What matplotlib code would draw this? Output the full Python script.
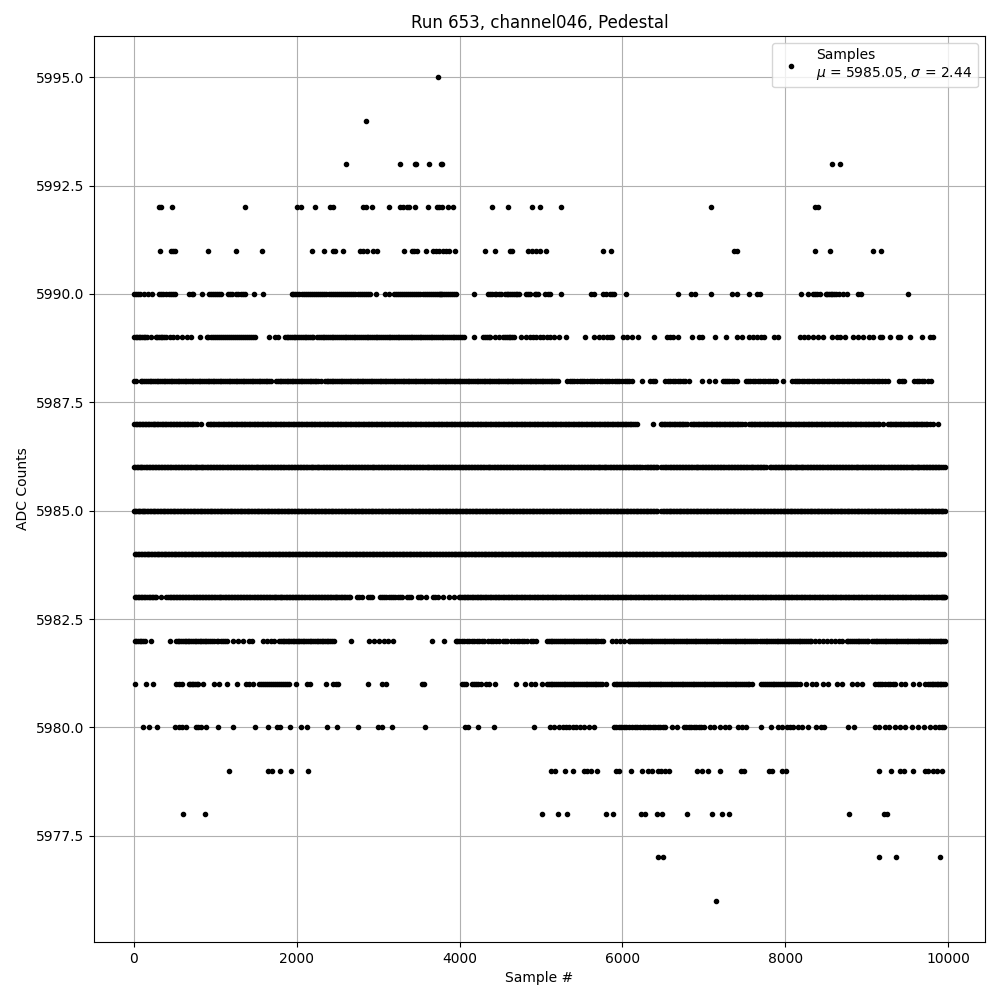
import matplotlib
matplotlib.use("Agg")
import matplotlib.pyplot as plt

title = "Run 653, channel046, Pedestal"
x_label = "Sample #"
y_label = "ADC Counts"
legend_label = "Samples\n$\\mu$ = 5985.05, $\\sigma$ = 2.44"

s5995 = [3740]
s5994 = [2850]
s5993 = [2600, 3270, 3450, 3470, 3630, 3770, 3790, 8580, 8670]
s5992 = [307, 335, 466, 1362, 2000, 2057, 2221, 2409, 2446, 2810, 2850, 2920, 3129, 3268, 3309,
         3350, 3383, 3448, 3607, 3718, 3750, 3783, 3853, 3914, 4393, 4601, 4896, 4994, 5247, 7088,
         8368, 8400]
s5991 = [319, 450, 479, 503, 908, 1252, 1571, 2184, 2331, 2442, 2474, 2564, 2777, 2818, 2859, 2933,
         2982, 3313, 3411, 3444, 3473, 3583, 3669, 3710, 3750, 3791, 3832, 3873, 3939, 4319, 4442,
         4620, 4640, 4847, 4896, 4945, 4994, 5063, 5763, 5865, 7366, 7407, 8364, 8548, 9076, 9178]
s5990 = [0, 29, 50, 70, 130, 172, 221, 307, 335, 356, 397, 430, 458, 480, 499, 683, 710, 732, 838, 920,
         945, 969, 995, 1018, 1045, 1072, 1157, 1182, 1207, 1256, 1285, 1317, 1345, 1370, 1472, 1583,
         1939, 1960, 1980, 2005, 2033, 2060, 2086, 2110, 2135, 2160, 2188, 2212, 2237, 2265, 2290, 2315,
         2339, 2365, 2393, 2418, 2442, 2465, 2491, 2518, 2544, 2570, 2597, 2620, 2646, 2670, 2695, 2720,
         2748, 2775, 2802, 2825, 2851, 2875, 2900, 2973, 3088, 3137, 3198, 3220, 3239, 3265, 3292, 3318,
         3342, 3365, 3391, 3418, 3444, 3468, 3493, 3520, 3546, 3570, 3595, 3620, 3648, 3672, 3697, 3720,
         3742, 3755, 3771, 3790, 3812, 3832, 3853, 3878, 3902, 3930, 3955, 4184, 4356, 4380, 4405, 4430,
         4454, 4480, 4507, 4560, 4580, 4601, 4622, 4642, 4665, 4691, 4712, 4732, 4822, 4842, 4863, 4924,
         4945, 4965, 5055, 5085, 5117, 5247, 5616, 5656, 5759, 5800, 5853, 5875, 5894, 6045, 6683, 6847,
         6888, 7088, 7346, 7411, 7554, 7656, 7697, 8192, 8278, 8348, 8370, 8389, 8430, 8499, 8520, 8540,
         8560, 8581, 8600, 8622, 8663, 8716, 8757, 8892, 8933, 9505]
s5989 = [0, 37, 78, 119, 160, 213, 266, 307, 348, 389, 438, 479, 528, 589, 650, 703, 810, 896, 945,
         994, 1043, 1092, 1141, 1190, 1239, 1288, 1337, 1387, 1436, 1485, 1656, 1730, 1771, 1853,
         1895, 1940, 1985, 2030, 2075, 2120, 2165, 2205, 2250, 2295, 2340, 2385, 2430, 2475, 2520,
         2565, 2610, 2655, 2700, 2745, 2790, 2835, 2880, 2925, 2970, 3015, 3060, 3105, 3150, 3195,
         3240, 3285, 3330, 3375, 3420, 3465, 3510, 3555, 3600, 3645, 3690, 3735, 3780, 3825, 3870,
         3915, 3960, 4005, 4057, 4172, 4290, 4335, 4380, 4440, 4487, 4536, 4580, 4625, 4670, 4752,
         4815, 4860, 4900, 4945, 4990, 5030, 5075, 5115, 5155, 5220, 5313, 5542, 5656, 5710, 5759,
         5812, 5853, 5873, 6004, 6057, 6119, 6188, 6389, 6548, 6589, 6622, 6683, 6855, 6937, 6978,
         7141, 7272, 7407, 7468, 7550, 7599, 7652, 7701, 7746, 7865, 7918, 8184, 8229, 8286, 8348,
         8409, 8470, 8573, 8634, 8675, 8736, 8838, 8900, 8961, 9031, 9084, 9166, 9194, 9288, 9382,
         9411, 9538, 9677, 9779, 9820]
s5989_fill = [20, 58, 98, 140, 285, 328, 368, 915, 970, 1018, 1068, 1118, 1165, 1215, 1265, 1312, 1362,
              1412, 1460, 1875, 1918, 1962, 2008, 2052, 2098, 2142, 2185, 2272, 2318, 2362, 2408, 2452,
              2498, 2542, 2588, 2632, 2678, 2722, 2768, 2812, 2858, 2902, 2948, 2992, 3038, 3082, 3128,
              3172, 3218, 3262, 3308, 3352, 3398, 3442, 3488, 3532, 3578, 3622, 3668, 3712, 3758, 3802,
              3848, 3892, 3938, 3982, 4030, 4312, 4358, 4558, 4602, 4648]
s5988 = [0, 25, 85, 125, 170, 215, 255, 300, 345, 385, 430, 470, 515, 560, 600, 645, 690, 730, 775,
         815, 860, 905, 945, 990, 1035, 1075, 1120, 1165, 1205, 1250, 1295, 1335, 1380, 1425, 1465,
         1510, 1555, 1595, 1640, 1685, 1745, 1790, 1830, 1875, 1920, 1960, 2005, 2050, 2090, 2135,
         2180, 2220, 2265, 2300, 2345, 2390, 2430, 2475, 2520, 2560, 2605, 2650, 2690, 2735, 2780,
         2820, 2865, 2910, 2950, 2995, 3040, 3080, 3125, 3170, 3210, 3255, 3300, 3340, 3385, 3430,
         3470, 3515, 3560, 3600, 3645, 3690, 3730, 3775, 3820, 3860, 3905, 3950, 3990, 4035, 4080,
         4120, 4165, 4210, 4250, 4295, 4340, 4380, 4425, 4470, 4510, 4555, 4600, 4640, 4685, 4730,
         4770, 4815, 4860, 4900, 4945, 4990, 5030, 5075, 5120, 5160, 5215, 5321, 5382, 5444, 5505,
         5566, 5628, 5689, 5751, 5812, 5873, 5935, 5996, 6057, 6119, 6241, 6344, 6397, 6528, 6589,
         6650, 6712, 6773, 6822, 6978, 7059, 7141, 7231, 7284, 7346, 7407, 7517, 7570, 7632, 7693,
         7755, 7816, 7886, 7975, 8090, 8143, 8205, 8266, 8327, 8389, 8450, 8511, 8573, 8634, 8696,
         8757, 8818, 8880, 8941, 9002, 9064, 9125, 9186, 9268, 9399, 9464, 9587, 9644, 9710, 9791]
s5988_fill = [105, 148, 192, 235, 278, 322, 365, 408, 450, 492, 538, 580, 622, 668, 710, 752, 795, 838,
              882, 925, 968, 1012, 1055, 1098, 1142, 1185, 1228, 1272, 1315, 1358, 1402, 1445, 1488,
              1532, 1575, 1618, 1662, 1768, 1810, 1852, 1898, 1940, 1982, 2028, 2070, 2112, 2158, 2200,
              2242, 2368, 2410, 2452, 2498, 2540, 2582, 2628, 2670, 2712, 2758, 2800, 2842, 2888, 2930,
              2972, 3018, 3060, 3102, 3148, 3190, 3232, 3278, 3320, 3362, 3408, 3450, 3492, 3538, 3580,
              3622, 3668, 3710, 3752, 3798, 3840, 3882, 3928, 3970, 4012, 4058, 4100, 4142, 4188, 4230,
              4272, 4318, 4360, 4402, 4448, 4490, 4532, 4578, 4620, 4662, 4708, 4750, 4792, 4838, 4880,
              4922, 4968, 5010, 5052, 5098, 5140, 5185, 5352, 5412, 5475, 5535, 5598, 5658, 5720, 5782,
              5842, 5905, 5965, 6028, 6088, 6372, 6558, 6620, 6680, 6742, 7258, 7315, 7376, 7545, 7600,
              7662, 7725, 7785, 7850, 8118, 8175, 8235, 8296, 8358, 8420, 8480, 8542, 8604, 8665, 8726,
              8788, 8850, 8910, 8972, 9032, 9095, 9155, 9228, 9430, 9616, 9676, 9750]
s5987 = [2, 40, 75, 115, 150, 190, 230, 265, 300, 340, 380, 420, 455, 495, 535, 570, 610, 650, 690,
         730, 770, 826, 910, 950, 990, 1030, 1070, 1110, 1150, 1190, 1230, 1270, 1310, 1350, 1390,
         1430, 1470, 1510, 1550, 1590, 1630, 1670, 1710, 1750, 1790, 1830, 1870, 1910, 1950, 1990,
         2030, 2070, 2110, 2150, 2190, 2230, 2270, 2310, 2350, 2390, 2430, 2470, 2510, 2550, 2590,
         2630, 2670, 2710, 2750, 2790, 2830, 2870, 2910, 2950, 2990, 3030, 3070, 3110, 3150, 3190,
         3230, 3270, 3310, 3350, 3390, 3430, 3470, 3510, 3550, 3590, 3630, 3670, 3710, 3750, 3790,
         3830, 3870, 3910, 3950, 3990, 4030, 4070, 4110, 4150, 4190, 4230, 4270, 4310, 4350, 4390,
         4430, 4470, 4510, 4550, 4590, 4630, 4670, 4710, 4750, 4790, 4830, 4870, 4910, 4950, 4990,
         5030, 5070, 5110, 5150, 5190, 5230, 5270, 5310, 5350, 5390, 5430, 5470, 5510, 5550, 5590,
         5630, 5670, 5710, 5750, 5790, 5830, 5870, 5910, 5950, 5990, 6030, 6070, 6110, 6150, 6180,
         6376, 6470, 6510, 6550, 6590, 6630, 6670, 6710, 6750, 6790, 6845, 6885, 6925, 6965, 7005,
         7045, 7085, 7125, 7165, 7205, 7245, 7285, 7325, 7365, 7405, 7445, 7468, 7509, 7555, 7595,
         7635, 7675, 7715, 7755, 7795, 7835, 7875, 7915, 7955, 7995, 8035, 8075, 8115, 8155, 8195,
         8235, 8275, 8315, 8355, 8395, 8435, 8475, 8515, 8555, 8595, 8635, 8675, 8715, 8755, 8795,
         8835, 8875, 8915, 8955, 8995, 9035, 9075, 9115, 9155, 9200, 9265, 9305, 9345, 9385, 9425,
         9465, 9505, 9545, 9585, 9625, 9665, 9705, 9745, 9775, 9820, 9881]
s5987_fill = [22, 58, 95, 132, 170, 210, 248, 282, 320, 360, 400, 438, 475, 515, 552, 590, 630, 670, 710,
              750, 930, 970, 1010, 1050, 1090, 1130, 1170, 1210, 1250, 1290, 1330, 1370, 1410, 1450, 1490,
              1530, 1570, 1610, 1650, 1690, 1730, 1770, 1810, 1850, 1890, 1930, 1970, 2010, 2050, 2090,
              2130, 2170, 2210, 2250, 2290, 2330, 2370, 2410, 2450, 2490, 2530, 2570, 2610, 2650, 2690,
              2730, 2770, 2810, 2850, 2890, 2930, 2970, 3010, 3050, 3090, 3130, 3170, 3210, 3250, 3290,
              3330, 3370, 3410, 3450, 3490, 3530, 3570, 3610, 3650, 3690, 3730, 3770, 3810, 3850, 3890,
              3930, 3970, 4010, 4050, 4090, 4130, 4170, 4210, 4250, 4290, 4330, 4370, 4410, 4450, 4490,
              4530, 4570, 4610, 4650, 4690, 4730, 4770, 4810, 4850, 4890, 4930, 4970, 5010, 5050, 5090,
              5130, 5170, 5210, 5250, 5290, 5330, 5370, 5410, 5450, 5490, 5530, 5570, 5610, 5650, 5690,
              5730, 5770, 5810, 5850, 5890, 5930, 5970, 6010, 6050, 6090, 6130, 6490, 6530, 6570, 6610,
              6650, 6690, 6730, 6770, 6865, 6905, 6945, 6985, 7025, 7065, 7105, 7145, 7185, 7225, 7265,
              7305, 7345, 7385, 7425, 7575, 7615, 7655, 7695, 7735, 7775, 7815, 7855, 7895, 7935, 7975,
              8015, 8055, 8095, 8135, 8175, 8215, 8255, 8295, 8335, 8375, 8415, 8455, 8495, 8535, 8575,
              8615, 8655, 8695, 8735, 8775, 8815, 8855, 8895, 8935, 8975, 9015, 9055, 9095, 9135, 9285,
              9325, 9365, 9405, 9445, 9485, 9525, 9565, 9605, 9645, 9685, 9725]
s5986 = [0, 35, 70, 105, 145, 180, 220, 255, 295, 330, 370, 405, 445, 480, 520, 555, 595, 630, 670,
         705, 745, 780, 820, 855, 895, 930, 970, 1005, 1045, 1080, 1120, 1155, 1195, 1230, 1270,
         1305, 1345, 1380, 1420, 1455, 1495, 1530, 1570, 1605, 1645, 1680, 1720, 1755, 1795, 1830,
         1870, 1905, 1945, 1980, 2020, 2055, 2095, 2130, 2170, 2205, 2245, 2280, 2320, 2355, 2395,
         2430, 2470, 2505, 2545, 2580, 2620, 2655, 2695, 2730, 2770, 2805, 2845, 2880, 2920, 2955,
         2995, 3030, 3070, 3105, 3145, 3180, 3220, 3255, 3295, 3330, 3370, 3405, 3445, 3480, 3520,
         3555, 3595, 3630, 3670, 3705, 3745, 3780, 3820, 3855, 3895, 3930, 3970, 4005, 4045, 4080,
         4120, 4155, 4195, 4230, 4270, 4305, 4345, 4380, 4420, 4455, 4495, 4530, 4570, 4605, 4645,
         4680, 4720, 4755, 4795, 4830, 4870, 4905, 4945, 4980, 5020, 5055, 5095, 5130, 5170, 5205,
         5245, 5280, 5320, 5355, 5395, 5430, 5470, 5505, 5545, 5580, 5620, 5655, 5695, 5730, 5770,
         5805, 5845, 5880, 5920, 5955, 5995, 6030, 6070, 6105, 6145, 6180, 6220, 6280, 6320, 6355,
         6395, 6430, 6480, 6520, 6560, 6600, 6635, 6675, 6710, 6750, 6785, 6825, 6860, 6900, 6935,
         6975, 7010, 7050, 7085, 7125, 7160, 7200, 7235, 7275, 7310, 7350, 7385, 7425, 7460, 7500,
         7535, 7575, 7610, 7650, 7685, 7725, 7760, 7815, 7850, 7890, 7925, 7965, 8000, 8040, 8075,
         8115, 8150, 8190, 8225, 8265, 8300, 8340, 8375, 8415, 8450, 8490, 8525, 8565, 8600, 8640,
         8675, 8715, 8750, 8790, 8825, 8865, 8900, 8940, 8975, 9015, 9050, 9090, 9125, 9165, 9200,
         9240, 9275, 9315, 9350, 9390, 9425, 9465, 9500, 9540, 9575, 9615, 9650, 9690, 9725, 9765,
         9800, 9840, 9875, 9915, 9960]
s5986_fill = [18, 52, 88, 125, 162, 200, 238, 275, 312, 350, 388, 425, 462, 500, 538, 575, 612, 650, 688,
              725, 762, 800, 838, 875, 912, 950, 988, 1025, 1062, 1100, 1138, 1175, 1212, 1250, 1288,
              1325, 1362, 1400, 1438, 1475, 1512, 1550, 1588, 1625, 1662, 1700, 1738, 1775, 1812, 1850,
              1888, 1925, 1962, 2000, 2038, 2075, 2112, 2150, 2188, 2225, 2262, 2300, 2338, 2375, 2412,
              2450, 2488, 2525, 2562, 2600, 2638, 2675, 2712, 2750, 2788, 2825, 2862, 2900, 2938, 2975,
              3012, 3050, 3088, 3125, 3162, 3200, 3238, 3275, 3312, 3350, 3388, 3425, 3462, 3500, 3538,
              3575, 3612, 3650, 3688, 3725, 3762, 3800, 3838, 3875, 3912, 3950, 3988, 4025, 4062, 4100,
              4138, 4175, 4212, 4250, 4288, 4325, 4362, 4400, 4438, 4475, 4512, 4550, 4588, 4625, 4662,
              4700, 4738, 4775, 4812, 4850, 4888, 4925, 4962, 5000, 5038, 5075, 5112, 5150, 5188, 5225,
              5262, 5300, 5338, 5375, 5412, 5450, 5488, 5525, 5562, 5600, 5638, 5675, 5712, 5750, 5788,
              5825, 5862, 5900, 5938, 5975, 6012, 6050, 6088, 6125, 6162, 6200, 6240, 6300, 6338, 6375,
              6412, 6500, 6540, 6580, 6618, 6655, 6692, 6730, 6768, 6805, 6842, 6880, 6918, 6955, 6992,
              7030, 7068, 7105, 7142, 7180, 7218, 7255, 7292, 7330, 7368, 7405, 7442, 7480, 7518, 7555,
              7592, 7630, 7668, 7705, 7742, 7832, 7870, 7908, 7945, 7982, 8020, 8058, 8095, 8132, 8170,
              8208, 8245, 8282, 8320, 8358, 8395, 8432, 8470, 8508, 8545, 8582, 8620, 8658, 8695, 8732,
              8770, 8808, 8845, 8882, 8920, 8958, 8995, 9032, 9070, 9108, 9145, 9182, 9220, 9258, 9295,
              9332, 9370, 9408, 9445, 9482, 9520, 9558, 9595, 9632, 9670, 9708, 9745, 9782, 9820, 9858,
              9895, 9935]
s5985 = [0, 30, 60, 95, 125, 160, 195, 230, 265, 300, 335, 370, 405, 440, 475, 510, 545, 580, 615,
         650, 685, 720, 755, 790, 825, 860, 895, 930, 965, 1000, 1035, 1070, 1105, 1140, 1175, 1210,
         1245, 1280, 1315, 1350, 1385, 1420, 1455, 1490, 1525, 1560, 1595, 1630, 1665, 1700, 1735,
         1770, 1805, 1840, 1875, 1910, 1945, 1980, 2015, 2050, 2085, 2120, 2155, 2190, 2225, 2260,
         2295, 2330, 2365, 2400, 2435, 2470, 2505, 2540, 2575, 2610, 2645, 2680, 2715, 2750, 2785,
         2820, 2855, 2890, 2925, 2960, 2995, 3030, 3065, 3100, 3135, 3170, 3205, 3240, 3275, 3310,
         3345, 3380, 3415, 3450, 3485, 3520, 3555, 3590, 3625, 3660, 3695, 3730, 3765, 3800, 3835,
         3870, 3905, 3940, 3975, 4010, 4045, 4080, 4115, 4150, 4185, 4220, 4255, 4290, 4325, 4360,
         4395, 4430, 4465, 4500, 4535, 4570, 4605, 4640, 4675, 4710, 4745, 4780, 4815, 4850, 4885,
         4920, 4955, 4990, 5025, 5060, 5095, 5130, 5165, 5200, 5235, 5270, 5305, 5340, 5375, 5410,
         5445, 5480, 5515, 5550, 5585, 5620, 5655, 5690, 5725, 5760, 5795, 5830, 5865, 5900, 5935,
         5970, 6005, 6040, 6075, 6110, 6145, 6180, 6215, 6250, 6285, 6320, 6355, 6390, 6425, 6480,
         6515, 6550, 6585, 6620, 6655, 6690, 6725, 6760, 6795, 6830, 6865, 6900, 6935, 6970, 7005,
         7040, 7075, 7110, 7145, 7180, 7215, 7250, 7285, 7320, 7355, 7390, 7425, 7460, 7495, 7530,
         7565, 7600, 7635, 7670, 7705, 7740, 7775, 7810, 7845, 7880, 7915, 7950, 7985, 8020, 8055,
         8090, 8125, 8160, 8195, 8230, 8265, 8300, 8335, 8370, 8405, 8440, 8475, 8510, 8545, 8580,
         8615, 8650, 8685, 8720, 8755, 8790, 8825, 8860, 8895, 8930, 8965, 9000, 9035, 9070, 9105,
         9140, 9175, 9210, 9245, 9280, 9315, 9350, 9385, 9420, 9455, 9490, 9525, 9560, 9595, 9630,
         9665, 9700, 9735, 9770, 9805, 9840, 9875, 9910, 9945]
s5985_fill = [15, 45, 78, 110, 142, 178, 212, 248, 282, 318, 352, 388, 422, 458, 492, 528, 562, 598, 632,
              668, 702, 738, 772, 808, 842, 878, 912, 948, 982, 1018, 1052, 1088, 1122, 1158, 1192, 1228,
              1262, 1298, 1332, 1368, 1402, 1438, 1472, 1508, 1542, 1578, 1612, 1648, 1682, 1718, 1752,
              1788, 1822, 1858, 1892, 1928, 1962, 1998, 2032, 2068, 2102, 2138, 2172, 2208, 2242, 2278,
              2312, 2348, 2382, 2418, 2452, 2488, 2522, 2558, 2592, 2628, 2662, 2698, 2732, 2768, 2802,
              2838, 2872, 2908, 2942, 2978, 3012, 3048, 3082, 3118, 3152, 3188, 3222, 3258, 3292, 3328,
              3362, 3398, 3432, 3468, 3502, 3538, 3572, 3608, 3642, 3678, 3712, 3748, 3782, 3818, 3852,
              3888, 3922, 3958, 3992, 4028, 4062, 4098, 4132, 4168, 4202, 4238, 4272, 4308, 4342, 4378,
              4412, 4448, 4482, 4518, 4552, 4588, 4622, 4658, 4692, 4728, 4762, 4798, 4832, 4868, 4902,
              4938, 4972, 5008, 5042, 5078, 5112, 5148, 5182, 5218, 5252, 5288, 5322, 5358, 5392, 5428,
              5462, 5498, 5532, 5568, 5602, 5638, 5672, 5708, 5742, 5778, 5812, 5848, 5882, 5918, 5952,
              5988, 6022, 6058, 6092, 6128, 6162, 6198, 6232, 6268, 6302, 6338, 6372, 6408, 6498, 6532,
              6568, 6602, 6638, 6672, 6708, 6742, 6778, 6812, 6848, 6882, 6918, 6952, 6988, 7022, 7058,
              7092, 7128, 7162, 7198, 7232, 7268, 7302, 7338, 7372, 7408, 7442, 7478, 7512, 7548, 7582,
              7618, 7652, 7688, 7722, 7758, 7792, 7828, 7862, 7898, 7932, 7968, 8002, 8038, 8072, 8108,
              8142, 8178, 8212, 8248, 8282, 8318, 8352, 8388, 8422, 8458, 8492, 8528, 8562, 8598, 8632,
              8668, 8702, 8738, 8772, 8808, 8842, 8878, 8912, 8948, 8982, 9018, 9052, 9088, 9122, 9158,
              9192, 9228, 9262, 9298, 9332, 9368, 9402, 9438, 9472, 9508, 9542, 9578, 9612, 9648, 9682,
              9718, 9752, 9788, 9822, 9858, 9892, 9928, 9960]
s5984 = [15, 50, 85, 120, 155, 190, 225, 260, 295, 330, 365, 400, 435, 470, 505, 540, 575, 610, 645,
         680, 715, 750, 785, 820, 855, 890, 925, 960, 995, 1030, 1065, 1100, 1135, 1170, 1205, 1240,
         1275, 1310, 1345, 1380, 1415, 1450, 1485, 1520, 1555, 1590, 1625, 1660, 1695, 1730, 1765,
         1800, 1835, 1870, 1905, 1940, 1975, 2010, 2045, 2080, 2115, 2150, 2185, 2220, 2255, 2290,
         2325, 2360, 2395, 2430, 2465, 2500, 2535, 2570, 2605, 2640, 2675, 2710, 2745, 2780, 2815,
         2850, 2885, 2920, 2955, 2990, 3025, 3060, 3095, 3130, 3165, 3200, 3235, 3270, 3305, 3340,
         3375, 3410, 3445, 3480, 3515, 3550, 3585, 3620, 3655, 3690, 3725, 3760, 3800, 3840, 3875,
         3910, 3945, 3980, 4015, 4050, 4085, 4120, 4155, 4190, 4225, 4260, 4295, 4330, 4365, 4400,
         4435, 4470, 4505, 4540, 4575, 4610, 4645, 4680, 4715, 4750, 4785, 4820, 4855, 4890, 4925,
         4960, 4995, 5030, 5065, 5100, 5135, 5170, 5205, 5240, 5275, 5310, 5345, 5380, 5415, 5450,
         5485, 5520, 5555, 5590, 5625, 5660, 5695, 5730, 5765, 5800, 5835, 5870, 5905, 5940, 5975,
         6010, 6045, 6080, 6115, 6150, 6185, 6220, 6255, 6290, 6325, 6360, 6395, 6430, 6470, 6505,
         6540, 6575, 6610, 6645, 6680, 6715, 6750, 6785, 6820, 6855, 6890, 6925, 6960, 6995, 7030,
         7065, 7100, 7135, 7170, 7205, 7240, 7275, 7310, 7345, 7380, 7415, 7450, 7485, 7520, 7555,
         7590, 7625, 7660, 7695, 7730, 7765, 7800, 7835, 7870, 7905, 7940, 7975, 8010, 8045, 8080,
         8115, 8150, 8185, 8220, 8255, 8290, 8325, 8360, 8395, 8430, 8465, 8500, 8535, 8570, 8605,
         8640, 8675, 8710, 8745, 8780, 8815, 8850, 8885, 8920, 8955, 8990, 9025, 9060, 9095, 9130,
         9165, 9200, 9235, 9270, 9305, 9340, 9375, 9410, 9445, 9480, 9515, 9550, 9585, 9620, 9655,
         9690, 9725, 9760, 9795, 9830, 9865, 9900, 9950]
s5984_fill = [32, 68, 102, 138, 172, 208, 242, 278, 312, 348, 382, 418, 452, 488, 522, 558, 592, 628, 662,
              698, 732, 768, 802, 838, 872, 908, 942, 978, 1012, 1048, 1082, 1118, 1152, 1188, 1222, 1258,
              1292, 1328, 1362, 1398, 1432, 1468, 1502, 1538, 1572, 1608, 1642, 1678, 1712, 1748, 1782,
              1818, 1852, 1888, 1922, 1958, 1992, 2028, 2062, 2098, 2132, 2168, 2202, 2238, 2272, 2308,
              2342, 2378, 2412, 2448, 2482, 2518, 2552, 2588, 2622, 2658, 2692, 2728, 2762, 2798, 2832,
              2868, 2902, 2938, 2972, 3008, 3042, 3078, 3112, 3148, 3182, 3218, 3252, 3288, 3322, 3358,
              3392, 3428, 3462, 3498, 3532, 3568, 3602, 3638, 3672, 3708, 3742, 3780, 3820, 3858, 3892,
              3928, 3962, 3998, 4032, 4068, 4102, 4138, 4172, 4208, 4242, 4278, 4312, 4348, 4382, 4418,
              4452, 4488, 4522, 4558, 4592, 4628, 4662, 4698, 4732, 4768, 4802, 4838, 4872, 4908, 4942,
              4978, 5012, 5048, 5082, 5118, 5152, 5188, 5222, 5258, 5292, 5328, 5362, 5398, 5432, 5468,
              5502, 5538, 5572, 5608, 5642, 5678, 5712, 5748, 5782, 5818, 5852, 5888, 5922, 5958, 5992,
              6028, 6062, 6098, 6132, 6168, 6202, 6238, 6272, 6308, 6342, 6378, 6412, 6450, 6488, 6522,
              6558, 6592, 6628, 6662, 6698, 6732, 6768, 6802, 6838, 6872, 6908, 6942, 6978, 7012, 7048,
              7082, 7118, 7152, 7188, 7222, 7258, 7292, 7328, 7362, 7398, 7432, 7468, 7502, 7538, 7572,
              7608, 7642, 7678, 7712, 7748, 7782, 7818, 7852, 7888, 7922, 7958, 7992, 8028, 8062, 8098,
              8132, 8168, 8202, 8238, 8272, 8308, 8342, 8378, 8412, 8448, 8482, 8518, 8552, 8588, 8622,
              8658, 8692, 8728, 8762, 8798, 8832, 8868, 8902, 8938, 8972, 9008, 9042, 9078, 9112, 9148,
              9182, 9218, 9252, 9288, 9322, 9358, 9392, 9428, 9462, 9498, 9532, 9568, 9602, 9638, 9672,
              9708, 9742, 9778, 9812, 9848, 9882, 9925]
s5983 = [8, 45, 85, 120, 160, 200, 240, 275, 330, 400, 440, 475, 515, 550, 590, 625, 665, 700, 740,
         775, 815, 850, 890, 925, 965, 1000, 1040, 1075, 1115, 1150, 1190, 1225, 1265, 1300, 1340,
         1375, 1415, 1450, 1490, 1525, 1565, 1600, 1640, 1675, 1715, 1750, 1790, 1825, 1865, 1900,
         1940, 1975, 2015, 2050, 2090, 2125, 2165, 2200, 2240, 2275, 2315, 2350, 2390, 2425, 2465,
         2500, 2540, 2575, 2620, 2660, 2745, 2800, 2870, 2930, 3020, 3070, 3130, 3180, 3240, 3290,
         3360, 3400, 3490, 3530, 3590, 3670, 3730, 3800, 3870, 3930, 3990, 4030, 4070, 4110, 4150,
         4190, 4230, 4270, 4310, 4350, 4390, 4430, 4470, 4510, 4550, 4590, 4630, 4670, 4710, 4750,
         4790, 4830, 4870, 4910, 4950, 4990, 5030, 5070, 5110, 5150, 5190, 5230, 5270, 5310, 5350,
         5390, 5430, 5470, 5510, 5550, 5590, 5630, 5670, 5710, 5750, 5790, 5830, 5870, 5910, 5950,
         5990, 6030, 6070, 6110, 6150, 6190, 6230, 6270, 6310, 6350, 6390, 6430, 6470, 6510, 6550,
         6590, 6630, 6670, 6710, 6750, 6790, 6830, 6870, 6910, 6950, 6990, 7030, 7070, 7110, 7150,
         7190, 7230, 7270, 7310, 7350, 7390, 7430, 7470, 7510, 7550, 7590, 7630, 7670, 7710, 7750,
         7790, 7830, 7870, 7910, 7950, 7990, 8030, 8070, 8110, 8150, 8190, 8230, 8270, 8310, 8350,
         8390, 8430, 8470, 8510, 8550, 8590, 8630, 8670, 8710, 8750, 8790, 8830, 8870, 8910, 8950,
         8990, 9030, 9070, 9110, 9150, 9190, 9230, 9270, 9310, 9350, 9390, 9430, 9470, 9510, 9550,
         9590, 9630, 9670, 9710, 9750, 9790, 9830, 9870, 9910, 9945, 9965]
s5983_fill = [25, 65, 102, 140, 180, 220, 258, 420, 458, 495, 532, 570, 608, 645, 682, 720, 758, 795, 832,
              870, 908, 945, 982, 1020, 1058, 1095, 1132, 1170, 1208, 1245, 1282, 1320, 1358, 1395, 1432,
              1470, 1508, 1545, 1582, 1620, 1658, 1695, 1732, 1770, 1808, 1845, 1882, 1920, 1958, 1995,
              2032, 2070, 2108, 2145, 2182, 2220, 2258, 2295, 2332, 2370, 2408, 2445, 2482, 2520, 2558,
              2595, 2640, 2770, 2900, 3045, 3100, 3155, 3210, 3265, 3380, 3510, 3700, 4010, 4050, 4090,
              4130, 4170, 4210, 4250, 4290, 4330, 4370, 4410, 4450, 4490, 4530, 4570, 4610, 4650, 4690,
              4730, 4770, 4810, 4850, 4890, 4930, 4970, 5010, 5050, 5090, 5130, 5170, 5210, 5250, 5290,
              5330, 5370, 5410, 5450, 5490, 5530, 5570, 5610, 5650, 5690, 5730, 5770, 5810, 5850, 5890,
              5930, 5970, 6010, 6050, 6090, 6130, 6170, 6210, 6250, 6290, 6330, 6370, 6410, 6450, 6490,
              6530, 6570, 6610, 6650, 6690, 6730, 6770, 6810, 6850, 6890, 6930, 6970, 7010, 7050, 7090,
              7130, 7170, 7210, 7250, 7290, 7330, 7370, 7410, 7450, 7490, 7530, 7570, 7610, 7650, 7690,
              7730, 7770, 7810, 7850, 7890, 7930, 7970, 8010, 8050, 8090, 8130, 8170, 8210, 8250, 8290,
              8330, 8370, 8410, 8450, 8490, 8530, 8570, 8610, 8650, 8690, 8730, 8770, 8810, 8850, 8890,
              8930, 8970, 9010, 9050, 9090, 9130, 9170, 9210, 9250, 9290, 9330, 9370, 9410, 9450, 9490,
              9530, 9570, 9610, 9650, 9690, 9730, 9770, 9810, 9850, 9890, 9930, 9955]
s5982 = [8, 49, 90, 131, 213, 446, 519, 560, 601, 642, 683, 724, 765, 806, 847, 888, 937, 990, 1039,
         1092, 1141, 1215, 1276, 1346, 1419, 1448, 1583, 1632, 1685, 1726, 1787, 1830, 1870, 1910,
         1950, 1990, 2030, 2075, 2115, 2160, 2200, 2245, 2285, 2325, 2370, 2410, 2455, 2663, 2892,
         2945, 3014, 3068, 3121, 3186, 3656, 3804, 3955, 3996, 4057, 4118, 4180, 4241, 4303, 4385,
         4446, 4528, 4589, 4671, 4732, 4793, 4875, 4937, 5076, 5120, 5165, 5210, 5255, 5300, 5345,
         5390, 5435, 5480, 5525, 5570, 5615, 5660, 5705, 5760, 5873, 5922, 5975, 6016, 6078, 6123,
         6168, 6213, 6258, 6303, 6348, 6393, 6438, 6483, 6528, 6573, 6618, 6663, 6708, 6753, 6798,
         6843, 6888, 6933, 6978, 7023, 7068, 7113, 7158, 7203, 7231, 7264, 7310, 7355, 7400, 7445,
         7490, 7535, 7580, 7625, 7652, 7693, 7738, 7783, 7828, 7873, 7918, 7963, 8008, 8053, 8098,
         8143, 8188, 8233, 8278, 8319, 8368, 8420, 8470, 8511, 8560, 8610, 8660, 8703, 8757, 8800,
         8845, 8890, 8935, 8980, 9022, 9064, 9110, 9155, 9200, 9245, 9290, 9335, 9380, 9425, 9470,
         9515, 9560, 9605, 9650, 9695, 9740, 9785, 9830, 9875, 9920, 9963]
s5982_fill = [28, 70, 110, 540, 580, 622, 662, 704, 745, 785, 826, 868, 915, 965, 1015, 1065, 1115, 1808,
              1850, 1890, 1930, 1970, 2010, 2052, 2095, 2138, 2180, 2222, 2265, 2305, 2348, 2390, 2432,
              3975, 4026, 4088, 4150, 4210, 4272, 4344, 4415, 4488, 4558, 4630, 4702, 4762, 4834, 4906,
              5098, 5142, 5188, 5232, 5278, 5322, 5368, 5412, 5458, 5502, 5548, 5592, 5638, 5682, 5732,
              6100, 6146, 6190, 6236, 6280, 6326, 6370, 6416, 6460, 6506, 6550, 6596, 6640, 6686, 6730,
              6776, 6820, 6866, 6910, 6956, 7000, 7046, 7090, 7136, 7180, 7288, 7332, 7378, 7422, 7468,
              7512, 7558, 7602, 7716, 7760, 7806, 7850, 7896, 7940, 7986, 8030, 8076, 8120, 8166, 8210,
              8256, 8300, 8778, 8822, 8868, 8912, 8958, 9002, 9088, 9132, 9178, 9222, 9268, 9312, 9358,
              9402, 9448, 9492, 9538, 9582, 9628, 9672, 9718, 9762, 9808, 9852, 9898, 9942]
s5981 = [12, 151, 233, 519, 552, 585, 671, 712, 753, 793, 847, 990, 1051, 1141, 1264, 1378, 1419,
         1468, 1534, 1583, 1632, 1681, 1730, 1779, 1828, 1877, 1910, 1992, 2127, 2164, 2360, 2442,
         2483, 2511, 2871, 3043, 3096, 3540, 3565, 4029, 4078, 4151, 4200, 4262, 4323, 4364, 4438,
         4699, 4802, 4875, 4933, 5014, 5076, 5120, 5165, 5210, 5255, 5300, 5345, 5390, 5435, 5480,
         5525, 5570, 5615, 5660, 5705, 5751, 5804, 5894, 5940, 5985, 6030, 6075, 6120, 6165, 6210,
         6255, 6300, 6345, 6390, 6435, 6480, 6525, 6570, 6615, 6660, 6705, 6750, 6795, 6840, 6885,
         6930, 6975, 7020, 7065, 7110, 7155, 7200, 7245, 7290, 7335, 7380, 7425, 7470, 7515, 7560,
         7591, 7709, 7755, 7800, 7845, 7890, 7935, 7980, 8025, 8070, 8115, 8184, 8254, 8327, 8376,
         8470, 8532, 8634, 8703, 8826, 8880, 8941, 9104, 9165, 9227, 9288, 9350, 9423, 9472, 9574,
         9644, 9718, 9760, 9800, 9840, 9880, 9920, 9963]
s5981_fill = [690, 732, 773, 1558, 1607, 1656, 1705, 1754, 1803, 1852, 4050, 4175, 4230, 5098, 5142, 5188,
              5232, 5278, 5322, 5368, 5412, 5458, 5502, 5548, 5592, 5638, 5682, 5728, 5918, 5962, 6008,
              6052, 6098, 6142, 6188, 6232, 6278, 6322, 6368, 6412, 6458, 6502, 6548, 6592, 6638, 6682,
              6728, 6772, 6818, 6862, 6908, 6952, 6998, 7042, 7088, 7132, 7178, 7222, 7268, 7312, 7358,
              7402, 7448, 7492, 7538, 7732, 7778, 7822, 7868, 7912, 7958, 8002, 8048, 8092, 8140, 9135,
              9195, 9258, 9320, 9780, 9820, 9860, 9900, 9942]
s5980 = [110, 184, 282, 507, 548, 589, 642, 757, 789, 822, 888, 1031, 1215, 1485, 1644, 1759, 1796,
         1918, 2049, 2123, 2368, 2491, 2748, 2994, 3047, 3166, 3570, 4070, 4110, 4233, 4429, 4920,
         5117, 5158, 5227, 5268, 5309, 5350, 5391, 5431, 5485, 5526, 5587, 5648, 5894, 5955, 6016,
         6078, 6151, 6221, 6282, 6344, 6405, 6466, 6528, 6609, 6671, 6753, 6814, 6875, 6937, 6998,
         7080, 7121, 7203, 7264, 7313, 7419, 7468, 7517, 7706, 7828, 7918, 7959, 8020, 8061, 8102,
         8164, 8213, 8278, 8376, 8438, 8483, 8777, 8851, 9104, 9153, 9227, 9276, 9350, 9411, 9472,
         9554, 9636, 9710, 9779, 9841, 9890, 9922, 9955]
s5980_fill = [5925, 5985, 6047, 6115, 6186, 6251, 6313, 6375, 6436, 6497, 6784, 6845, 6906, 6968]
s5979 = [1166, 1644, 1697, 1796, 1930, 2135, 5129, 5170, 5301, 5391, 5526, 5567, 5616, 5689, 5922,
         5963, 6106, 6241, 6315, 6364, 6438, 6479, 6519, 6568, 6916, 6978, 7055, 7198, 7456, 7493,
         7796, 7836, 7959, 8008, 9149, 9297, 9411, 9460, 9566, 9718, 9759, 9820, 9861, 9922]
s5978 = [601, 871, 5014, 5211, 5321, 5800, 5885, 6233, 6282, 6425, 6487, 6793, 7100, 7223, 7309,
         8781, 9219, 9256]
s5977 = [6438, 6503, 9149, 9358, 9898]
s5976 = [7149]

levels = [5995, 5994, 5993, 5992, 5991, 5990, 5989, 5989, 5988, 5988, 5987, 5987, 5986, 5986, 5985,
          5985, 5984, 5984, 5983, 5983, 5982, 5982, 5981, 5981, 5980, 5980, 5979, 5978, 5977, 5976]
samples = [s5995, s5994, s5993, s5992, s5991, s5990, s5989, s5989_fill, s5988, s5988_fill, s5987,
           s5987_fill, s5986, s5986_fill, s5985, s5985_fill, s5984, s5984_fill, s5983, s5983_fill,
           s5982, s5982_fill, s5981, s5981_fill, s5980, s5980_fill, s5979, s5978, s5977, s5976]

xs = []
ys = []
for level, row in zip(levels, samples):
    xs.extend(row)
    ys.extend([level] * len(row))

fig, ax = plt.subplots(figsize=(10, 10), dpi=100)
ax.plot(xs, ys, linestyle="none", marker=".", color="black", label=legend_label)
ax.set_xlim(-490, 10455)
ax.set_title(title)
ax.set_xlabel(x_label)
ax.set_ylabel(y_label)
ax.grid(True)
ax.legend(loc="upper right")
fig.subplots_adjust(left=0.094, right=0.985, top=0.964, bottom=0.058)
fig.savefig("out.png", dpi=100)
